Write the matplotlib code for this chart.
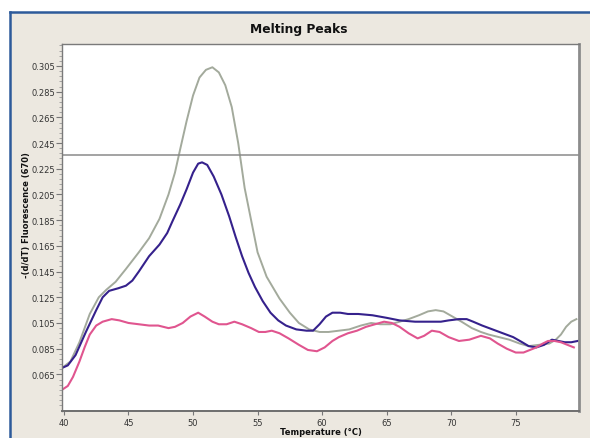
import numpy as np
import matplotlib
matplotlib.use("Agg")
import matplotlib.pyplot as plt
from matplotlib.patches import Rectangle
from matplotlib.lines import Line2D
from matplotlib.ticker import FixedLocator

# ---- data: -(d/dT) fluorescence (670) vs temperature ----
temp_grey = [39.85, 40.5, 41.2, 42.0, 42.7, 43.3, 44.0, 44.8, 45.8, 46.6, 47.4, 48.1,
             48.6, 49.0, 49.5, 50.0, 50.5, 51.0, 51.5, 52.0, 52.5, 53.0, 53.5, 54.0,
             54.5, 55.0, 55.7, 56.7, 57.5, 58.2, 59.0, 59.8, 60.5, 61.3, 62.1, 63.0,
             63.8, 64.5, 65.3, 66.0, 66.7, 67.5, 68.2, 68.8, 69.4, 70.1, 70.8, 71.6,
             72.3, 72.9, 73.7, 74.5, 75.3, 76.0, 76.8, 77.6, 78.1, 78.5, 78.9, 79.3, 79.7]
fluor_grey = [0.070, 0.075, 0.090, 0.112, 0.125, 0.131, 0.137, 0.147, 0.160, 0.171, 0.186, 0.205,
              0.222, 0.240, 0.262, 0.282, 0.296, 0.302, 0.304, 0.300, 0.290, 0.273, 0.245, 0.210,
              0.185, 0.160, 0.141, 0.124, 0.113, 0.105, 0.100, 0.098, 0.098, 0.099, 0.100, 0.103,
              0.105, 0.104, 0.104, 0.106, 0.108, 0.111, 0.114, 0.115, 0.114, 0.110, 0.106, 0.101,
              0.098, 0.096, 0.094, 0.092, 0.089, 0.087, 0.088, 0.089, 0.092, 0.096, 0.102, 0.106, 0.108]

temp_navy = [39.85, 40.3, 40.9, 41.7, 42.5, 43.0, 43.5, 44.2, 44.8, 45.3, 45.8, 46.6,
             47.4, 48.0, 48.4, 49.0, 49.5, 50.0, 50.4, 50.7, 51.1, 51.6, 52.2, 52.8,
             53.3, 53.8, 54.3, 54.8, 55.4, 56.0, 56.6, 57.2, 58.0, 58.8, 59.3, 59.8,
             60.3, 60.8, 61.4, 62.0, 62.8, 63.9, 65.0, 66.0, 67.2, 68.3, 69.2, 69.8,
             70.6, 71.2, 71.7, 72.4, 73.2, 74.0, 74.8, 75.5, 76.0, 76.6, 77.2, 77.8,
             78.3, 78.8, 79.3, 79.8]
fluor_navy = [0.070, 0.072, 0.080, 0.098, 0.115, 0.125, 0.130, 0.132, 0.134, 0.138, 0.145, 0.157,
              0.166, 0.175, 0.184, 0.197, 0.209, 0.222, 0.229, 0.230, 0.228, 0.219, 0.205, 0.188,
              0.172, 0.157, 0.144, 0.133, 0.122, 0.113, 0.107, 0.103, 0.100, 0.099, 0.099, 0.104,
              0.110, 0.113, 0.113, 0.112, 0.112, 0.111, 0.109, 0.107, 0.106, 0.106, 0.106, 0.107,
              0.108, 0.108, 0.106, 0.103, 0.100, 0.097, 0.094, 0.090, 0.087, 0.086, 0.088, 0.092,
              0.091, 0.090, 0.090, 0.091]

temp_pink = [39.85, 40.3, 40.7, 41.2, 41.6, 42.0, 42.5, 43.0, 43.7, 44.3, 45.0, 45.8,
             46.6, 47.3, 48.1, 48.6, 49.2, 49.8, 50.4, 50.9, 51.5, 52.0, 52.6, 53.2,
             53.8, 54.5, 55.1, 55.6, 56.1, 56.7, 57.4, 58.2, 58.9, 59.6, 60.2, 60.8,
             61.3, 62.0, 62.7, 63.4, 64.1, 64.8, 65.4, 66.0, 66.7, 67.4, 67.9, 68.5,
             69.1, 69.8, 70.6, 71.4, 72.3, 73.0, 73.6, 74.3, 75.0, 75.6, 76.1, 76.6,
             77.1, 77.5, 78.0, 78.5, 79.0, 79.5]
fluor_pink = [0.053, 0.056, 0.063, 0.075, 0.086, 0.096, 0.103, 0.106, 0.108, 0.107, 0.105, 0.104,
              0.103, 0.103, 0.101, 0.102, 0.105, 0.110, 0.113, 0.110, 0.106, 0.104, 0.104, 0.106,
              0.104, 0.101, 0.098, 0.098, 0.099, 0.097, 0.093, 0.088, 0.084, 0.083, 0.086, 0.091,
              0.094, 0.097, 0.099, 0.102, 0.104, 0.106, 0.105, 0.102, 0.097, 0.093, 0.095, 0.099,
              0.098, 0.094, 0.091, 0.092, 0.095, 0.093, 0.089, 0.085, 0.082, 0.082, 0.084, 0.086,
              0.089, 0.091, 0.091, 0.090, 0.088, 0.086]

threshold = 0.236

y_ticks = [0.065, 0.085, 0.105, 0.125, 0.145, 0.165, 0.185, 0.205, 0.225, 0.245, 0.265, 0.285, 0.305]
x_ticks = [40, 45, 50, 55, 60, 65, 70, 75]

# ---- figure ----
W, H = 590, 439
fig = plt.figure(figsize=(W / 100, H / 100), dpi=100, facecolor="white")

# window panel with blue frame on top and left (drawn behind the axes)
panel_bg = "#ECE8E0"
fig.patches.append(Rectangle((10 / W, 0), 1 - 10 / W, 1 - 13 / H, transform=fig.transFigure,
                             facecolor=panel_bg, edgecolor="none", zorder=-3))
fig.lines.append(Line2D([10 / W, 1], [1 - 13 / H, 1 - 13 / H], transform=fig.transFigure,
                        color="#2D5A9A", lw=1.8, zorder=-2))
fig.lines.append(Line2D([10 / W, 10 / W], [0, 1 - 13 / H], transform=fig.transFigure,
                        color="#2D5A9A", lw=1.8, zorder=-2))

ax = fig.add_axes([62 / W, 1 - 412 / H, (579 - 62) / W, (412 - 45) / H])
ax.set_facecolor("white")

ax.plot(temp_grey, fluor_grey, color="#A3AA9C", lw=1.4, solid_joinstyle="round")
ax.plot(temp_navy, fluor_navy, color="#35218C", lw=1.5, solid_joinstyle="round")
ax.plot(temp_pink, fluor_pink, color="#E0558F", lw=1.5, solid_joinstyle="round")
ax.axhline(threshold, color="#8A8A8A", lw=1.1)

ax.set_xlim(39.85, 79.9)
ax.set_ylim(0.0365, 0.3221)

ax.yaxis.set_major_locator(FixedLocator(y_ticks))
ax.yaxis.set_minor_locator(FixedLocator(np.arange(0.041, 0.322, 0.004)))
ax.set_yticklabels([f"{v:.3f}" for v in y_ticks])
ax.xaxis.set_major_locator(FixedLocator(x_ticks))
ax.set_xticklabels([str(v) for v in x_ticks])

ax.tick_params(axis="y", which="major", length=4, width=0.8, color="#777777",
               labelsize=6, labelcolor="#333333", pad=1)
ax.tick_params(axis="y", which="minor", length=2, width=0.6, color="#999999")
ax.tick_params(axis="x", which="major", length=3, width=0.8, color="#777777",
               labelsize=6, labelcolor="#333333", pad=2)

for side in ["top", "left"]:
    ax.spines[side].set_color("#7A7A7A")
    ax.spines[side].set_linewidth(1.0)
ax.spines["right"].set_color("#8C8C8C")
ax.spines["right"].set_linewidth(2.0)
ax.spines["bottom"].set_color("#6E6E6E")
ax.spines["bottom"].set_linewidth(1.4)

fig.text(299 / W, 1 - 30 / H, "Melting Peaks", ha="center", va="center",
         fontsize=8.8, fontweight="bold", color="#111111")
fig.text(321 / W, 1 - 433 / H, "Temperature (\u00b0C)", ha="center", va="center",
         fontsize=6, fontweight="bold", color="#111111")
fig.text(27 / W, 1 - 215 / H, "-(d/dT) Fluorescence (670)", ha="center", va="center",
         rotation=90, fontsize=6, fontweight="bold", color="#111111")

fig.savefig("out.png", dpi=100, facecolor=fig.get_facecolor())
